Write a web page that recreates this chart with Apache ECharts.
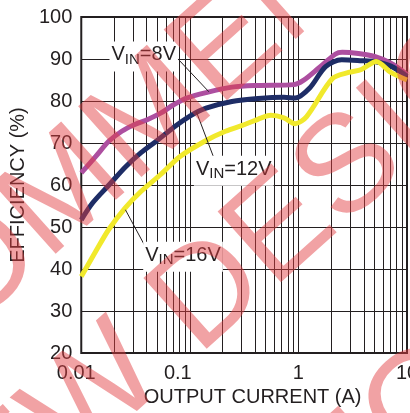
<!DOCTYPE html>
<html>
<head>
<meta charset="utf-8">
<script src="https://cdn.jsdelivr.net/npm/echarts@6/dist/echarts.min.js"></script>
<style>
  html, body { margin: 0; padding: 0; background: #fff; }
  #chart { width: 410px; height: 413px; }
</style>
</head>
<body>
<div id="chart"></div>
<script>
// output current (A) and efficiency (%)
const current8 = [0.01, 0.0136, 0.0179, 0.0236, 0.0311, 0.0409, 0.0538, 0.0709, 0.0933, 0.141, 0.244, 0.424, 0.9, 1.11, 1.56, 2.2, 2.53, 3.57, 5.02, 7.1, 10];
const eff8 = [62.9, 66.8, 70.4, 72.8, 74.4, 75.6, 77.1, 79.1, 80.7, 82.0, 83.3, 83.7, 83.9, 84.9, 88.0, 91.2, 91.6, 91.3, 90.6, 89.0, 86.3];

const current12 = [0.01, 0.0127, 0.018, 0.0255, 0.0355, 0.05, 0.07, 0.1, 0.141, 0.244, 0.424, 0.734, 0.933, 1.27, 1.78, 2.5, 3.82, 5.02, 7.1, 10];
const eff12 = [51.7, 55.7, 60.0, 64.3, 67.7, 70.6, 73.6, 76.4, 78.3, 79.9, 80.6, 80.9, 80.7, 83.1, 88.2, 89.8, 89.6, 89.4, 88.3, 85.9];

const current16 = [0.01, 0.0136, 0.0179, 0.0253, 0.0356, 0.0538, 0.0813, 0.141, 0.213, 0.32, 0.457, 0.557, 0.734, 0.933, 1.19, 2.05, 2.9, 3.8, 5.2, 7.1, 10];
const eff16 = [38.2, 44.2, 49.4, 54.5, 58.5, 62.5, 66.8, 70.6, 72.8, 74.4, 76.0, 76.6, 76.0, 74.6, 76.3, 85.3, 86.8, 87.5, 89.4, 86.8, 85.0];

const xTicks = [0.01, 0.1, 1, 10];
const xTickText = ['0.01', '0.1', '1', '10'];
const minorX = [0.02, 0.03, 0.04, 0.05, 0.06, 0.07, 0.08, 0.09,
                0.2, 0.3, 0.4, 0.5, 0.6, 0.7, 0.8, 0.9,
                2, 3, 4, 5, 6, 7, 8, 9];

// leader lines: [label end, curve end] in data units
const leaders = [
  [[0.0759, 90.3], [0.1496, 82.2]],
  [[0.1146, 77.5], [0.173, 65.3]],
  [[0.0255, 54.1], [0.0393, 45.1]]
];
// curve labels: text, left x and centre y in data units
const labelNames = ['8V', '12V', '16V'];
const labelPos = [[0.0182, 90.6], [0.109, 63.4], [0.0372, 42.9]];

// watermark lines across the picture
const stampText = ['RECOMMENDED', 'NEW DESIGNS', 'NOT'];

function pairs(xs, ys) { return xs.map((x, i) => [x, ys[i]]); }

const ink = '#231f20';
const chart = echarts.init(document.getElementById('chart'));

const lineSeries = (name, xs, ys, color) => ({
  name: name,
  type: 'line',
  data: pairs(xs, ys),
  smooth: 0.3,
  showSymbol: false,
  lineStyle: { color: color, width: 5 },
  z: 5,
  animation: false
});

chart.setOption({
  animation: false,
  grid: {
    left: 72, right: 3, top: 17, bottom: 60,
    show: true, borderColor: ink, borderWidth: 2
  },
  xAxis: {
    type: 'log',
    logBase: 10,
    min: 0.01,
    max: 10,
    name: 'OUTPUT CURRENT (A)',
    nameLocation: 'middle',
    nameGap: 34,
    nameTextStyle: { fontFamily: 'Liberation Sans', fontSize: 20, color: ink, padding: [0, 0, 0, 17] },
    axisLine: { show: false },
    axisTick: { show: false },
    axisLabel: { show: false },
    splitLine: { show: true, lineStyle: { color: ink, width: 1 } }
  },
  yAxis: {
    type: 'value',
    min: 20,
    max: 100,
    interval: 10,
    name: 'EFFICIENCY (%)',
    nameLocation: 'middle',
    nameGap: 46,
    nameTextStyle: { fontFamily: 'Liberation Sans', fontSize: 20, color: ink },
    axisLine: { show: false },
    axisTick: { show: false },
    axisLabel: { fontFamily: 'Liberation Sans', fontSize: 20, color: ink, margin: 9 },
    splitLine: { show: true, lineStyle: { color: ink, width: 1 } }
  },
  series: [
    {
      type: 'line',
      data: [],
      silent: true,
      z: 1,
      markLine: {
        silent: true,
        symbol: ['none', 'none'],
        label: { show: false },
        lineStyle: { color: ink, width: 1, type: 'solid' },
        data: minorX.map(v => ({ xAxis: v }))
      }
    },
    lineSeries('VIN=8V', current8, eff8, '#ad4fa0'),
    lineSeries('VIN=12V', current12, eff12, '#1e2d66'),
    lineSeries('VIN=16V', current16, eff16, '#f1e92c')
  ]
});

// annotations placed through the chart's own coordinate system
const px = p => chart.convertToPixel({ gridIndex: 0 }, p);
const graphics = [];

// x tick labels (the original sets 0.01 and 0.1 slightly left of their lines)
const tickShift = [-5, -12, 0, 0];
xTicks.forEach((v, i) => {
  const p = px([v, 20]);
  graphics.push({
    type: 'text', silent: true, x: p[0] + tickShift[i], y: p[1] + 10,
    style: { text: xTickText[i], fontFamily: 'Liberation Sans', fontSize: 20, fill: ink, align: 'center', verticalAlign: 'top' }
  });
});

leaders.forEach(([a, b]) => {
  const pa = px(a), pb = px(b);
  graphics.push({
    type: 'line', z: 20, silent: true,
    shape: { x1: pa[0], y1: pa[1], x2: pb[0], y2: pb[1] },
    style: { stroke: ink, lineWidth: 1 }
  });
});
labelNames.forEach((n, i) => {
  const p = px(labelPos[i]);
  graphics.push({
    type: 'text', z: 21, silent: true,
    x: p[0], y: p[1],
    style: {
      text: 'V{s|IN}=' + n,
      fontFamily: 'Liberation Sans', fontSize: 20, fill: ink,
      verticalAlign: 'middle', align: 'left',
      backgroundColor: '#fff', padding: [1, 2, 4, 2],
      rich: { s: { fontFamily: 'Liberation Sans', fontSize: 15, fill: ink, padding: [10, 0, 0, 0] } }
    }
  });
});

// watermark, laid over everything
const stampColor = 'rgba(225, 60, 65, 0.48)';
const stampAt = [[139, 128], [270, 241], [419, 410]];
stampText.forEach((t, i) => {
  graphics.push({
    type: 'text', z: 50, silent: true,
    x: stampAt[i][0], y: stampAt[i][1], rotation: 0.73,
    style: {
      text: t, fontFamily: 'Liberation Sans', fontSize: 138,
      fill: stampColor, align: 'center', verticalAlign: 'middle'
    }
  });
});
chart.setOption({ graphic: graphics });
</script>
</body>
</html>
